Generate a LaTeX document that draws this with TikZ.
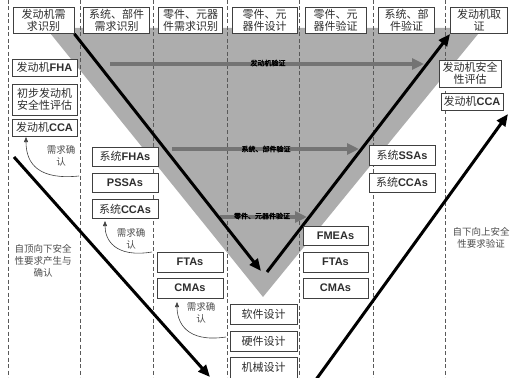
\documentclass[tikz,border=0pt]{standalone}
\usepackage{fontspec}
\setmainfont{Noto Sans CJK SC}
\newfontfamily\lat{Liberation Sans}
\newfontfamily\boldcjk{Noto Sans CJK SC}[FakeBold=2.5]
\usetikzlibrary{arrows.meta}
\definecolor{vgrey}{HTML}{ADADAD}
\definecolor{agrey}{HTML}{747474}
\definecolor{bord}{HTML}{404040}
\definecolor{txt}{HTML}{2E2E2E}
\newcommand{\LB}[1]{{\lat\bfseries #1}}
\begin{document}
\begin{tikzpicture}[x=1pt,y=-1pt,
  box/.style={draw=bord, fill=white, line width=0.8pt, inner sep=0pt, align=center,
    text=txt, font=\fontsize{11}{12}\selectfont},
  colline/.style={draw=black!65, line width=0.8pt, dash pattern=on 4pt off 2.5pt},
  bigarrow/.style={draw=black, line width=3pt, -{Triangle[length=12pt,width=10pt]}},
  greyarrow/.style={draw=agrey, line width=4pt, -{Triangle[length=12pt,width=11pt]}},
  greylabel/.style={inner sep=0pt, text=black, font=\boldcjk\fontsize{7}{8}\selectfont},
  confirm/.style={draw=black!75, line width=0.6pt, -{Triangle[length=5pt,width=4pt]}},
  note/.style={inner sep=0pt, align=center, text=black!70, font=\fontsize{9.5}{12}\selectfont}]
\useasboundingbox (0,0) rectangle (516,377);
% grey V
\fill[vgrey] (46,28) -- (483,28) -- (263,297) -- cycle;
% column lines
\foreach \x in {8,80,153,227,299,373,445}
  \draw[colline] (\x,0) -- (\x,377);
% grey verification arrows
\coordinate (g1s) at (110,64); \coordinate (g1e) at (424,64);
\coordinate (g2s) at (172,149); \coordinate (g2e) at (359,149);
\coordinate (g3s) at (220,217); \coordinate (g3e) at (307,217);
\draw[greyarrow] (g1s) -- (g1e);
\draw[greyarrow] (g2s) -- (g2e);
\draw[greyarrow] (g3s) -- (g3e);
\node[greylabel] (gl1) at (268,63) {发动机验证};
\node[greylabel] (gl2) at (266,149) {系统、部件验证};
\node[greylabel] (gl3) at (262,216) {零件、元器件验证};
% top boxes
\node[box, minimum width=61pt, minimum height=26pt] (t1) at (43.5,20.5) {发动机需\\求识别};
\node[box, minimum width=66pt, minimum height=26pt] (t2) at (116.5,20.5) {系统、部件\\需求识别};
\node[box, minimum width=64pt, minimum height=26pt] (t3) at (190.5,20.5) {零件、元器\\件需求识别};
\node[box, minimum width=65pt, minimum height=26pt] (t4) at (264.5,20.5) {零件、元\\器件设计};
\node[box, minimum width=61pt, minimum height=26pt] (t5) at (335.5,20.5) {零件、元\\器件验证};
\node[box, minimum width=56pt, minimum height=26pt] (t6) at (406.5,20.5) {系统、部\\件验证};
\node[box, minimum width=57pt, minimum height=26pt] (t7) at (479,20.5) {发动机取\\证};
% big black arrows
\coordinate (vb) at (261,271);
\coordinate (vc) at (267,272);
\coordinate (la) at (14,157);
\coordinate (lb) at (210,377);
\coordinate (ra) at (315,381);
\coordinate (rb) at (508,114);
\draw[bigarrow] (t1.south east) -- (vb);
\draw[bigarrow] (vc) -- (t7.south west);
\draw[bigarrow] (la) -- (lb);
\draw[bigarrow] (ra) -- (rb);
% column 1
\node[box, minimum width=65pt, minimum height=17pt] (fha) at (44.5,67.5) {发动机\LB{FHA}};
\node[box, minimum width=65pt, minimum height=31pt] (pre) at (44.5,99.5) {初步发动机\\安全性评估};
\node[box, minimum width=65pt, minimum height=17pt] (cca) at (44.5,127.5) {发动机\LB{CCA}};
% column 2
\node[box, minimum width=66pt, minimum height=19pt] (sfha) at (125,156.5) {系统\LB{FHAs}};
\node[box, minimum width=66pt, minimum height=19pt] (pssa) at (125,182.5) {\LB{PSSAs}};
\node[box, minimum width=66pt, minimum height=19pt] (scca) at (125,209) {系统\LB{CCAs}};
% column 3
\node[box, minimum width=66pt, minimum height=20pt] (fta1) at (190,262) {\LB{FTAs}};
\node[box, minimum width=66pt, minimum height=20pt] (cma1) at (190,288) {\LB{CMAs}};
% column 4
\node[box, minimum width=67pt, minimum height=20pt] (sw) at (263.5,314) {软件设计};
\node[box, minimum width=67pt, minimum height=20pt] (hw) at (263.5,341) {硬件设计};
\node[box, minimum width=67pt, minimum height=21pt] (mech) at (263.5,367.5) {机械设计};
% column 5
\node[box, minimum width=65pt, minimum height=19pt] (fmea) at (335.5,235.5) {\LB{FMEAs}};
\node[box, minimum width=65pt, minimum height=20pt] (fta2) at (335.5,262) {\LB{FTAs}};
\node[box, minimum width=65pt, minimum height=20pt] (cma2) at (335.5,288) {\LB{CMAs}};
% column 6
\node[box, minimum width=66pt, minimum height=20pt] (sssa) at (402,155) {系统\LB{SSAs}};
\node[box, minimum width=66pt, minimum height=19pt] (scca2) at (402,182.5) {系统\LB{CCAs}};
% column 7
\node[box, minimum width=62pt, minimum height=27pt] (esa) at (470,73.5) {发动机安全\\性评估};
\node[box, minimum width=62pt, minimum height=17pt] (ecca) at (472,101.5) {发动机\LB{CCA}};
% notes
\node[note] (down) at (43,261) {自顶向下安全\\性要求产生与\\确认};
\node[note] (up) at (481,238) {自下向上安全\\性要求验证};
% confirmation arrows
\coordinate (c1s) at (79,176); \coordinate (c1e) at (26,137);
\coordinate (c2s) at (152,252); \coordinate (c2e) at (105,221);
\coordinate (c3s) at (226,337); \coordinate (c3e) at (177,302);
\draw[confirm] (c1s) .. controls (40,180) and (26,165) .. (c1e);
\draw[confirm] (c2s) .. controls (115,258) and (105,240) .. (c2e);
\draw[confirm] (c3s) .. controls (186,343) and (177,322) .. (c3e);
\node[note] (n1) at (61,156) {需求确\\认};
\node[note] (n2) at (131,239) {需求确\\认};
\node[note] (n3) at (201,313) {需求确\\认};
\end{tikzpicture}
\end{document}
